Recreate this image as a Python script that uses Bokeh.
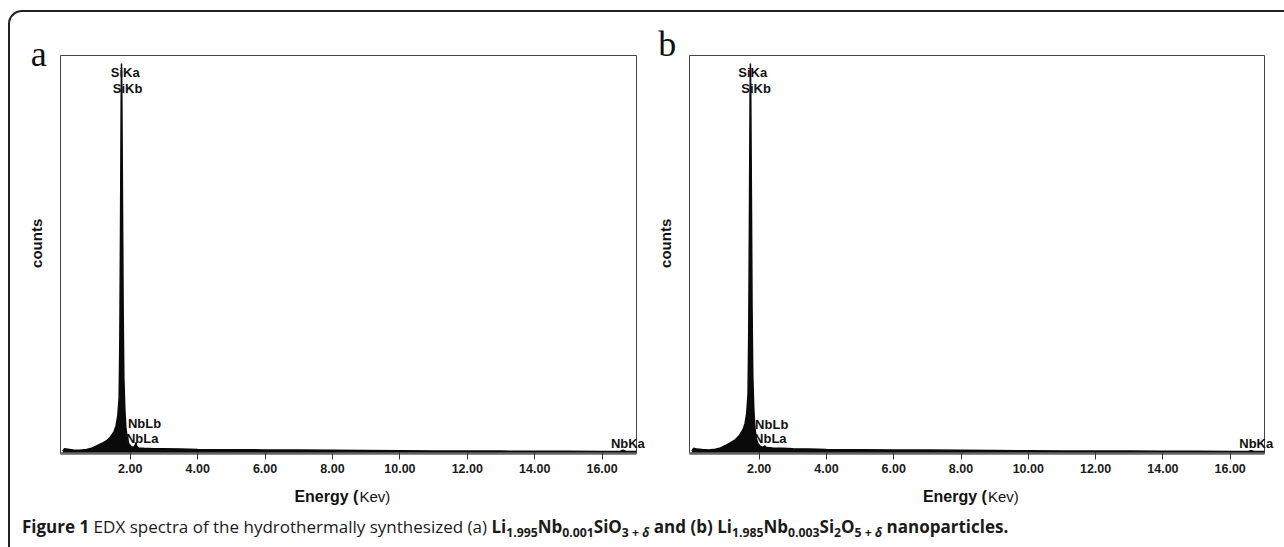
from bokeh.plotting import figure
from bokeh.models import Label, FixedTicker, PrintfTickFormatter, Range1d, Div, Spacer
from bokeh.layouts import row, column
from bokeh.embed import file_html
from bokeh.resources import INLINE
import math

# ---------------- data ----------------
energy = [0.00, 0.05, 0.15, 0.30, 0.50, 0.70, 0.85, 1.00, 1.15, 1.30, 1.42, 1.52,
          1.58, 1.63, 1.67, 1.69, 1.71, 1.73, 1.74, 1.75, 1.77, 1.79, 1.81, 1.84,
          1.87, 1.91, 1.96, 2.03, 2.10, 2.15, 2.17, 2.19, 2.25, 2.40, 2.70, 3.00,
          3.50, 4.00, 5.00, 6.00, 7.00, 8.00, 9.00, 10.00, 11.00, 12.00, 13.00,
          14.00, 15.00, 16.00, 16.55, 16.62, 16.70, 17.02]

counts_a = [0.6, 1.2, 1.1, 0.9, 0.8, 1.0, 1.3, 1.9, 2.5, 3.2, 4.2, 5.5,
            7.0, 9.5, 14.0, 28.0, 55.0, 88.0, 98.0, 90.0, 62.0, 35.0, 19.0, 11.0,
            6.5, 3.8, 2.4, 1.7, 1.5, 2.2, 2.8, 1.8, 1.4, 1.3, 1.2, 1.2,
            1.1, 1.0, 0.95, 0.9, 0.85, 0.8, 0.75, 0.7, 0.65, 0.6, 0.6,
            0.55, 0.55, 0.5, 0.55, 0.8, 0.55, 0.5]

counts_b = [0.6, 1.3, 1.1, 1.0, 0.9, 1.1, 1.4, 2.0, 2.7, 3.5, 4.6, 6.0,
            7.5, 10.0, 15.0, 30.0, 57.0, 89.0, 98.0, 91.0, 64.0, 36.0, 20.0, 11.5,
            6.8, 3.9, 2.5, 1.8, 1.6, 1.8, 1.9, 1.6, 1.5, 1.4, 1.3, 1.2,
            1.1, 1.0, 0.95, 0.9, 0.85, 0.8, 0.75, 0.7, 0.65, 0.6, 0.6,
            0.55, 0.55, 0.5, 0.55, 0.7, 0.55, 0.5]

x_ticks = [2, 4, 6, 8, 10, 12, 14, 16]

peak_names = ["SiKa", "SiKb", "NbLb", "NbLa"]
peak_text_x_a = [1.42, 1.48, 1.93, 1.87]
peak_text_y_a = [95.7, 91.7, 7.6, 3.8]
peak_text_x_b = [1.38, 1.47, 1.88, 1.85]
peak_text_y_b = [95.7, 91.7, 7.4, 3.8]
edge_peak_name = "NbKa"
edge_peak_x = [16.26, 16.27]
edge_peak_y = [2.5, 2.5]

panel_letters = ["a", "b"]
letter_x = [-0.95, -1.0]
letter_y = [100.5, 103.0]
x_label_bold = "Energy ("
x_label_plain = "Kev)"
y_label = "counts"


def make_panel(idx, counts, tx, ty, width, left_b, right_b):
    p = figure(width=width, height=502,
               x_range=Range1d(-0.07, 17.02), y_range=Range1d(0, 100),
               output_backend="svg", toolbar_location=None,
               y_axis_location=None,
               min_border_left=left_b, min_border_right=right_b,
               min_border_top=43, min_border_bottom=61)
    p.grid.visible = False
    p.border_fill_color = None
    p.background_fill_color = "white"
    p.outline_line_color = "#444444"
    p.outline_line_width = 1

    ax = p.xaxis[0]
    ax.ticker = FixedTicker(ticks=x_ticks, minor_ticks=[])
    ax.formatter = PrintfTickFormatter(format="%.2f")
    ax.axis_line_color = "#666666"
    ax.axis_line_width = 2.5
    ax.major_tick_line_color = "#333333"
    ax.major_tick_out = 6
    ax.major_tick_in = 1
    ax.minor_tick_line_color = None
    ax.major_label_text_font = "Liberation Sans"
    ax.major_label_text_font_style = "bold"
    ax.major_label_text_font_size = "12.5px"
    ax.major_label_text_color = "#1a1a1a"
    ax.major_label_standoff = 4

    p.varea(x=energy, y1=[0] * len(energy), y2=counts, fill_color="#0a0a0a")
    p.line(x=energy, y=counts, line_color="#0a0a0a", line_width=1.5)

    for name, x, y in zip(peak_names, tx, ty):
        p.add_layout(Label(x=x, y=y, text=name, text_font="Liberation Sans",
                           text_font_style="bold", text_font_size="13px",
                           text_color="#111111", text_align="left",
                           text_baseline="middle"))

    # labels that sit outside the plotting box live in the side panels
    p.add_layout(Label(x=edge_peak_x[idx], y=edge_peak_y[idx], text=edge_peak_name,
                       text_font="Liberation Sans", text_font_style="bold",
                       text_font_size="13px", text_color="#111111",
                       text_align="left", text_baseline="middle"), "below")

    p.add_layout(Label(x=letter_x[idx], y=letter_y[idx],
                       text=panel_letters[idx], text_font="Liberation Serif",
                       text_font_size="36px", text_color="#111111",
                       text_align="left", text_baseline="middle"), "left")

    p.add_layout(Label(x=-0.77, y=52.8, text=y_label, angle=math.pi / 2,
                       text_font="Liberation Sans", text_font_style="bold",
                       text_font_size="15px", text_color="#111111",
                       text_align="center", text_baseline="middle"), "left")

    p.add_layout(Label(x=8.77, y=-10.9, text=x_label_bold,
                       text_font="Liberation Sans", text_font_style="bold",
                       text_font_size="16px", text_color="#111111",
                       text_align="right", text_baseline="middle"), "below")
    p.add_layout(Label(x=8.80, y=-10.9, text=x_label_plain,
                       text_font="Liberation Sans", text_font_size="15px",
                       text_color="#111111",
                       text_align="left", text_baseline="middle"), "above")
    return p


pa = make_panel(0, counts_a, peak_text_x_a, peak_text_y_a, 637, 50, 11)
pb = make_panel(1, counts_b, peak_text_x_b, peak_text_y_b, 633, 42, 16)

SUB = '<sub style="line-height:0;font-size:72%">'
caption_html = ('<div style="font-family:\'Open Sans\',sans-serif;font-size:17px;'
                'white-space:nowrap;'
                'line-height:22px;color:#1a1a1a;position:relative;top:-4px">'
                '<b>Figure 1</b> EDX spectra of the hydrothermally synthesized (a) '
                '<b>Li' + SUB + '1.995</sub>Nb' + SUB + '0.001</sub>SiO' + SUB +
                '3 + <i>&delta;</i></sub> and (b) Li' + SUB + '1.985</sub>Nb' + SUB +
                '0.003</sub>Si' + SUB + '2</sub>O' + SUB + '5 + <i>&delta;</i></sub> '
                'nanoparticles.</b></div>')
caption = Div(text=caption_html, width=1266, height=32,
              styles={"padding-left": "7px", "padding-top": "1px"})

inner = column(row(pa, pb), caption,
               styles={"border-top": "2px solid #222222",
                       "border-left": "2px solid #222222",
                       "border-top-left-radius": "14px"})

layout = column(Spacer(height=10), row(Spacer(width=8), inner))

open("out.html", "w").write(file_html(layout, INLINE))
